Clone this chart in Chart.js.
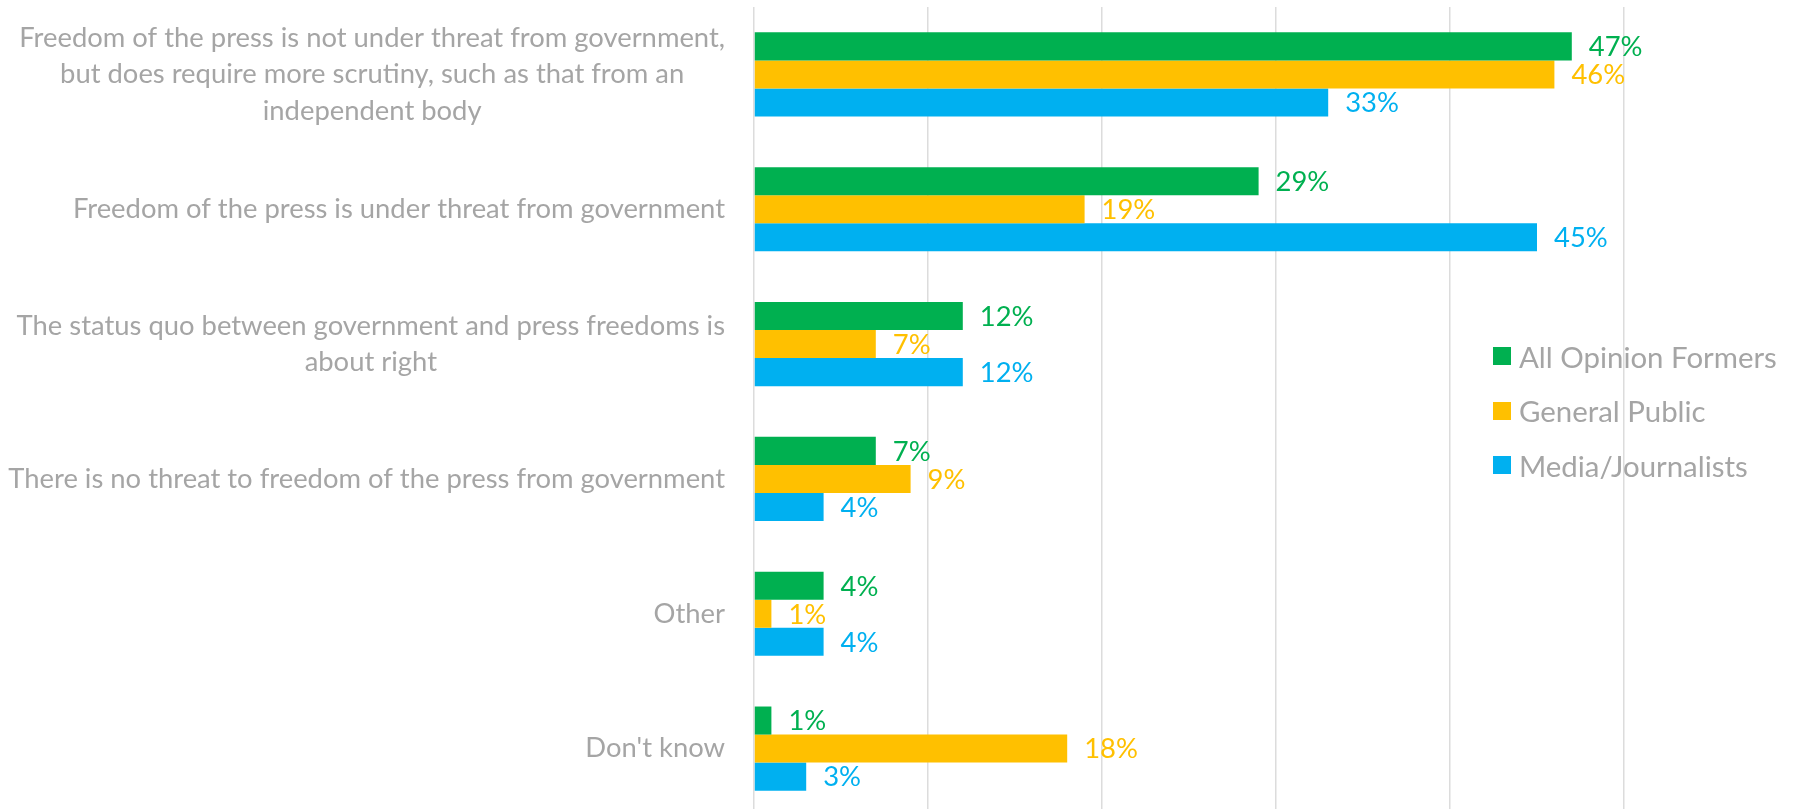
<!DOCTYPE html>
<html>
<head>
<meta charset="utf-8">
<script src="https://cdn.jsdelivr.net/npm/chart.js@4.4.0/dist/chart.umd.min.js"></script>
<style>
    html, body { margin: 0; padding: 0; background: #fff; overflow: hidden; }
    #wrap { position: relative; width: 1797px; height: 816px; }
    #legend { position: absolute; left: 1493px; top: 338px; font-family: Lato, sans-serif; color: #a5a5a5; }
    .legend-item { display: flex; align-items: center; height: 36px; margin-bottom: 18.5px; white-space: nowrap; }
    .legend-box { width: 18px; height: 18px; margin-right: 8px; }
</style>
</head>
<body>
<div id="wrap">
    <canvas id="chart"></canvas>
    <div id="legend"></div>
</div>
<script>
const categories = [
    ["Freedom of the press is not under threat from government,", "but does require more scrutiny, such as that from an", "independent body"],
    ["Freedom of the press is under threat from government"],
    ["The status quo between government and press freedoms is", "about right"],
    ["There is no threat to freedom of the press from government"],
    ["Other"],
    ["Don't know"]
];
const seriesNames = ["All Opinion Formers", "General Public", "Media/Journalists"];
const opinionFormers = [47, 29, 12, 7, 4, 1];
const generalPublic = [46, 19, 7, 9, 1, 18];
const journalists = [33, 45, 12, 4, 4, 3];
const seriesColors = ["#00b050", "#ffc000", "#00b0f0"];

const textGray = "#a5a5a5";

// pick a font size so the longest label is as wide as in the original
function fitFontSize() {
    const ctx = document.createElement("canvas").getContext("2d");
    ctx.font = "28px Lato";
    const w = ctx.measureText("There is no threat to freedom of the press from government").width;
    return Math.round(28 * 717 / w * 10) / 10;
}
const fontSize = fitFontSize();
const lineHeight = 36.5;

// category labels: block right-aligned to the axis, lines centered inside the block
const categoryLabels = {
    id: "categoryLabels",
    afterDraw(chart) {
        const ctx = chart.ctx;
        const yScale = chart.scales.y;
        const right = chart.chartArea.left - 29;
        ctx.save();
        ctx.font = fontSize + "px Lato";
        ctx.fillStyle = textGray;
        ctx.textAlign = "center";
        ctx.textBaseline = "middle";
        chart.data.labels.forEach((lines, i) => {
            const y = yScale.getPixelForTick(i);
            const widest = Math.max(...lines.map(l => ctx.measureText(l).width));
            const cx = right - widest / 2;
            const top = y - (lines.length - 1) * lineHeight / 2;
            lines.forEach((l, j) => ctx.fillText(l, cx, top + j * lineHeight));
        });
        ctx.restore();
    }
};

// value labels just past the end of each bar
const valueLabels = {
    id: "valueLabels",
    afterDatasetsDraw(chart) {
        const ctx = chart.ctx;
        ctx.save();
        ctx.font = fontSize + "px Lato";
        ctx.textAlign = "left";
        ctx.textBaseline = "middle";
        chart.data.datasets.forEach((ds, di) => {
            const meta = chart.getDatasetMeta(di);
            meta.data.forEach((bar, i) => {
                ctx.fillStyle = ds.backgroundColor;
                ctx.fillText(ds.data[i] + "%", bar.x + 17, bar.y + 1);
            });
        });
        ctx.restore();
    }
};

const ctx = document.getElementById("chart").getContext("2d");
const chart = new Chart(ctx, {
    type: "bar",
    data: {
        labels: categories,
        datasets: [
            { label: seriesNames[0], data: opinionFormers, backgroundColor: seriesColors[0] },
            { label: seriesNames[1], data: generalPublic, backgroundColor: seriesColors[1] },
            { label: seriesNames[2], data: journalists, backgroundColor: seriesColors[2] }
        ]
    },
    options: {
        indexAxis: "y",
        responsive: true,
        maintainAspectRatio: false,
        animation: false,
        layout: { padding: { top: 7, right: 173, left: 0, bottom: 0 } },
        datasets: {
            bar: { barPercentage: 1, categoryPercentage: 0.624 }
        },
        scales: {
            x: {
                min: 0,
                max: 50,
                ticks: { display: false, stepSize: 10 },
                grid: { color: "#dcdcdc", lineWidth: 1.5, drawTicks: false },
                border: { display: false }
            },
            y: {
                ticks: { display: false },
                grid: { display: false },
                border: { display: false },
                afterFit(scale) { scale.width = 754; }
            }
        },
        plugins: {
            legend: { display: false },
            tooltip: { enabled: false }
        }
    },
    plugins: [valueLabels, categoryLabels]
});

// legend drawn beside the plot, overlapping it like the original
const legend = document.getElementById("legend");
legend.style.fontSize = (fontSize + 2) + "px";
chart.data.datasets.forEach(ds => {
    const item = document.createElement("div");
    item.className = "legend-item";
    item.innerHTML = `<span class="legend-box" style="background:${ds.backgroundColor}"></span><span>${ds.label}</span>`;
    legend.appendChild(item);
});
</script>
</body>
</html>
